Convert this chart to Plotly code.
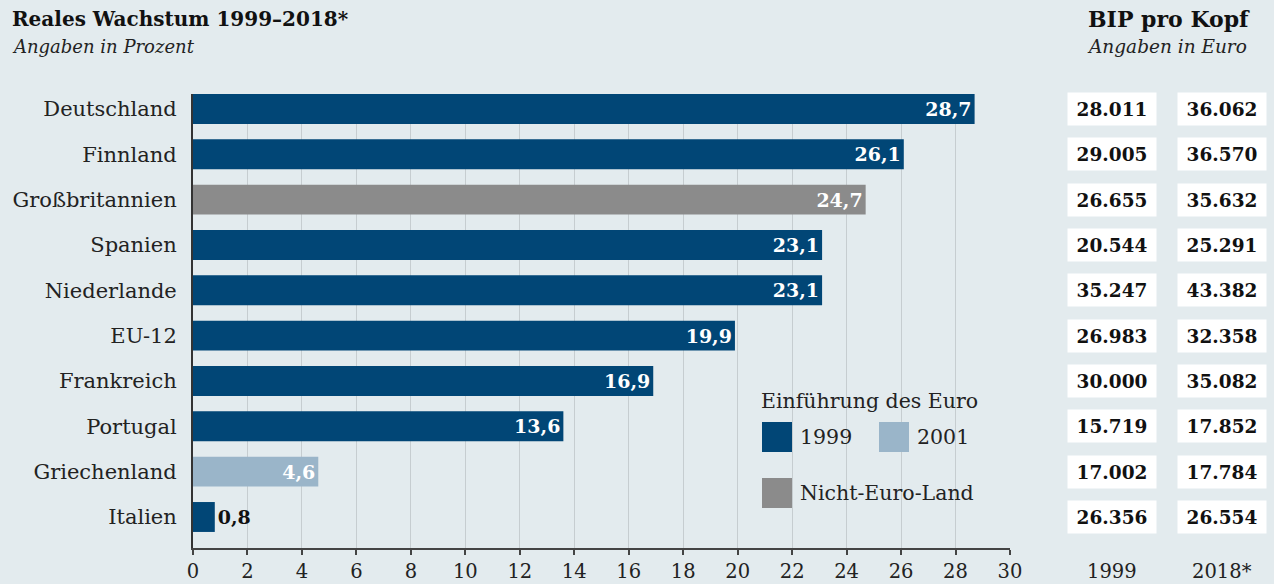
import plotly.graph_objects as go

categories = ["Deutschland", "Finnland", "Großbritannien", "Spanien", "Niederlande",
              "EU-12", "Frankreich", "Portugal", "Griechenland", "Italien"]
growth = [28.7, 26.1, 24.7, 23.1, 23.1, 19.9, 16.9, 13.6, 4.6, 0.8]
group = ["1999", "1999", "none", "1999", "1999", "1999", "1999", "1999", "2001", "1999"]
bip_1999 = ["28.011", "29.005", "26.655", "20.544", "35.247", "26.983", "30.000", "15.719", "17.002", "26.356"]
bip_2018 = ["36.062", "36.570", "35.632", "25.291", "43.382", "32.358", "35.082", "17.852", "17.784", "26.554"]
x_ticks = list(range(0, 31, 2))

BG = "#e3ebee"
COL = {"1999": "#014676", "2001": "#9ab5c9", "none": "#8b8b8b"}
FONT = "DejaVu Serif"

W, H = 1274, 584
L, R, T, B = 193, 264, 94, 36
pw, ph = W - L - R, H - T - B

def px(x):
    return (x - L) / pw

def py(y):
    return (H - B - y) / ph

colors = [COL[g] for g in group]
texts = [f"{v:.1f}".replace(".", ",") for v in growth]
positions = ["inside" if v > 3 else "outside" for v in growth]

fig = go.Figure()
fig.add_trace(go.Bar(
    x=growth, y=categories, orientation="h",
    marker=dict(color=colors, line=dict(width=0)),
    width=0.66,
    text=texts, textposition=positions, insidetextanchor="end",
    insidetextfont=dict(family=FONT, size=19, color="white", weight="bold"),
    outsidetextfont=dict(family=FONT, size=19, color="#111", weight="bold"),
    textangle=0, cliponaxis=False, showlegend=False, hoverinfo="skip",
))

ann = []
for c, a, b in zip(categories, bip_1999, bip_2018):
    for xc, val in ((1112, a), (1222, b)):
        ann.append(dict(xref="paper", yref="y", x=px(xc), y=c, text=val, showarrow=False,
                        xanchor="center", yanchor="middle", bgcolor="white", width=86, height=30,
                        font=dict(family=FONT, size=18.5, color="#111", weight="bold")))

REG = dict(family=FONT, size=20.5, color="#222")
ann += [
    dict(xref="paper", yref="paper", x=px(1112), y=py(571), text="1999", showarrow=False,
         font=dict(family=FONT, size=19.5, color="#222"), xanchor="center", yanchor="middle"),
    dict(xref="paper", yref="paper", x=px(1222), y=py(571), text="2018*", showarrow=False,
         font=dict(family=FONT, size=19.5, color="#222"), xanchor="center", yanchor="middle"),
    dict(xref="paper", yref="paper", x=px(10), y=py(19), text="<b>Reales Wachstum 1999–2018*</b>",
         showarrow=False, font=dict(family=FONT, size=20, color="#111"), xanchor="left", yanchor="middle"),
    dict(xref="paper", yref="paper", x=px(10), y=py(47), text="<i>Angaben in Prozent</i>",
         showarrow=False, font=dict(family=FONT, size=18, color="#222"), xanchor="left", yanchor="middle"),
    dict(xref="paper", yref="paper", x=px(1169), y=py(19), text="<b>BIP pro Kopf</b>",
         showarrow=False, font=dict(family=FONT, size=22, color="#111"), xanchor="center", yanchor="middle"),
    dict(xref="paper", yref="paper", x=px(1167), y=py(47), text="<i>Angaben in Euro</i>",
         showarrow=False, font=dict(family=FONT, size=18.5, color="#222"), xanchor="center", yanchor="middle"),
    # legend texts
    dict(xref="paper", yref="paper", x=px(759), y=py(401), text="Einführung des Euro",
         showarrow=False, font=REG, xanchor="left", yanchor="middle"),
    dict(xref="paper", yref="paper", x=px(798), y=py(437), text="1999",
         showarrow=False, font=REG, xanchor="left", yanchor="middle"),
    dict(xref="paper", yref="paper", x=px(915), y=py(437), text="2001",
         showarrow=False, font=REG, xanchor="left", yanchor="middle"),
    dict(xref="paper", yref="paper", x=px(798), y=py(493), text="Nicht-Euro-Land",
         showarrow=False, font=REG, xanchor="left", yanchor="middle"),
]

shapes = [
    dict(type="rect", xref="paper", yref="paper", x0=px(745), x1=px(1004), y0=py(514), y1=py(383),
         fillcolor=BG, line=dict(width=0), layer="between"),
    dict(type="rect", xref="paper", yref="paper", x0=px(762), x1=px(792), y0=py(452), y1=py(422),
         fillcolor=COL["1999"], line=dict(width=0)),
    dict(type="rect", xref="paper", yref="paper", x0=px(879), x1=px(909), y0=py(452), y1=py(422),
         fillcolor=COL["2001"], line=dict(width=0)),
    dict(type="rect", xref="paper", yref="paper", x0=px(762), x1=px(792), y0=py(508), y1=py(478),
         fillcolor=COL["none"], line=dict(width=0)),
]

fig.update_layout(
    width=W, height=H, margin=dict(l=L, r=R, t=T, b=B),
    paper_bgcolor=BG, plot_bgcolor=BG,
    annotations=ann, shapes=shapes,
    font=dict(family=FONT, size=19, color="#222"),
    xaxis=dict(range=[0, 30], tickvals=x_ticks, ticktext=[str(t) for t in x_ticks],
               showgrid=True, gridcolor="#c6cdd0", gridwidth=1, zeroline=False,
               showline=True, linecolor="#444", linewidth=2, ticks="outside", ticklen=5,
               tickcolor="#444", tickwidth=2, tickfont=dict(family=FONT, size=19.5, color="#222"),
               ticklabelstandoff=0, automargin=False, fixedrange=True),
    yaxis=dict(categoryorder="array", categoryarray=categories, range=[9.684, -0.33],
               showgrid=False, zeroline=False, showline=True, linecolor="#333", linewidth=2,
               ticks="", ticklabelstandoff=10, tickfont=dict(family=FONT, size=21, color="#222"),
               automargin=False, fixedrange=True),
)

fig.write_html("out.html", config={"displayModeBar": False},
               post_script="document.body.style.margin='0';document.body.style.overflow='hidden';")
